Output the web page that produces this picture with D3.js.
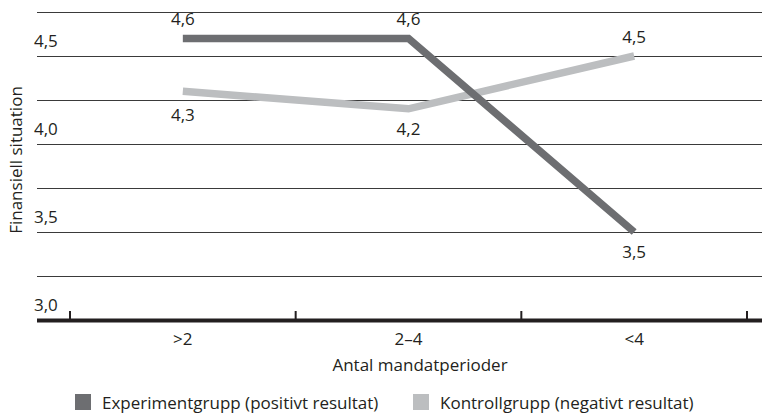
<!DOCTYPE html>
<html>
<head>
<meta charset="utf-8">
<script src="https://cdn.jsdelivr.net/npm/d3@7"></script>
<style>
  html, body { margin: 0; padding: 0; background: #fff; }
  svg { display: block; font-family: "Open Sans", sans-serif; }
</style>
</head>
<body>
<svg id="chart" width="762" height="414"></svg>
<script>
// Antal mandatperioder (kategorier)
const categories = [">2", "2\u20134", "<4"];
// Finansiell situation per grupp
const experimentValues = [4.6, 4.6, 3.5];
const kontrollValues = [4.3, 4.2, 4.5];
const seriesNames = ["Experimentgrupp (positivt resultat)", "Kontrollgrupp (negativt resultat)"];
// Y-axelns etiketter och stödlinjer
const yLabelTicks = [3.0, 3.5, 4.0, 4.5];
const gridTicks = [3.25, 3.5, 3.75, 4.0, 4.25, 4.5, 4.75];

const darkColor = "#6d6e71";
const lightColor = "#bcbec0";
const textColor = "#231f20";
const fmt = v => d3.format(".1f")(v).replace(".", ",");

const svg = d3.select("#chart");
const fontSize = 17;

const x = d3.scaleBand().domain(categories).range([70, 747]).padding(0);
const y = d3.scaleLinear().domain([3.0, 4.75]).range([320, 12]);
const lineLeft = 37, lineRight = 762;

// horizontal grid lines
svg.append("g").selectAll("line")
  .data(gridTicks).join("line")
  .attr("x1", lineLeft).attr("x2", lineRight)
  .attr("y1", d => Math.round(y(d)) + 0.5).attr("y2", d => Math.round(y(d)) + 0.5)
  .attr("stroke", "#3a3a3a").attr("stroke-width", 1.2);

// y labels sit above their grid line
svg.append("g").selectAll("text")
  .data(yLabelTicks).join("text")
  .attr("x", 34).attr("y", d => y(d) - 9)
  .attr("font-size", fontSize).attr("fill", textColor)
  .text(fmt);

// x axis baseline
svg.append("line")
  .attr("x1", lineLeft).attr("x2", lineRight)
  .attr("y1", 320.5).attr("y2", 320.5)
  .attr("stroke", textColor).attr("stroke-width", 4);

// tick marks at band boundaries
const boundaries = categories.map(c => x(c)).concat([x(categories[categories.length - 1]) + x.bandwidth()]);
svg.append("g").selectAll("line")
  .data(boundaries).join("line")
  .attr("x1", d => d).attr("x2", d => d)
  .attr("y1", 311).attr("y2", 320)
  .attr("stroke", textColor).attr("stroke-width", 2);

// category labels
svg.append("g").selectAll("text")
  .data(categories).join("text")
  .attr("x", d => x(d) + x.bandwidth() / 2).attr("y", 345)
  .attr("text-anchor", "middle")
  .attr("font-size", fontSize).attr("fill", textColor)
  .text(d => d);

// axis titles
svg.append("text")
  .attr("x", 420).attr("y", 371)
  .attr("text-anchor", "middle")
  .attr("font-size", fontSize).attr("fill", textColor)
  .text("Antal mandatperioder");

svg.append("text")
  .attr("transform", "translate(22,160) rotate(-90)")
  .attr("text-anchor", "middle")
  .attr("font-size", fontSize).attr("fill", textColor)
  .text("Finansiell situation");

// series lines
const line = d3.line()
  .x((d, i) => x(categories[i]) + x.bandwidth() / 2)
  .y(d => y(d));

svg.append("path").datum(kontrollValues)
  .attr("d", line).attr("fill", "none")
  .attr("stroke", lightColor).attr("stroke-width", 7.5)
  .attr("stroke-linejoin", "miter").attr("stroke-linecap", "butt");

svg.append("path").datum(experimentValues)
  .attr("d", line).attr("fill", "none")
  .attr("stroke", darkColor).attr("stroke-width", 7.5)
  .attr("stroke-linejoin", "miter").attr("stroke-linecap", "butt");

// value labels: offsets per point (above = negative)
const expOffsets = [-13, -13, 26];
const kontOffsets = [30, 26, -13];
function valueLabels(values, offsets) {
  svg.append("g").selectAll("text")
    .data(values).join("text")
    .attr("x", (d, i) => x(categories[i]) + x.bandwidth() / 2)
    .attr("y", (d, i) => y(d) + offsets[i])
    .attr("text-anchor", "middle")
    .attr("font-size", fontSize).attr("fill", textColor)
    .text(fmt);
}
valueLabels(experimentValues, expOffsets);
valueLabels(kontrollValues, kontOffsets);

// legend
const legend = [
  { name: seriesNames[0], color: darkColor, x: 75 },
  { name: seriesNames[1], color: lightColor, x: 413 }
];
const lg = svg.append("g").selectAll("g").data(legend).join("g")
  .attr("transform", d => `translate(${d.x},394)`);
lg.append("rect").attr("width", 16).attr("height", 16).attr("fill", d => d.color);
lg.append("text").attr("x", 27).attr("y", 15)
  .attr("font-size", fontSize).attr("fill", textColor)
  .text(d => d.name);
</script>
</body>
</html>
